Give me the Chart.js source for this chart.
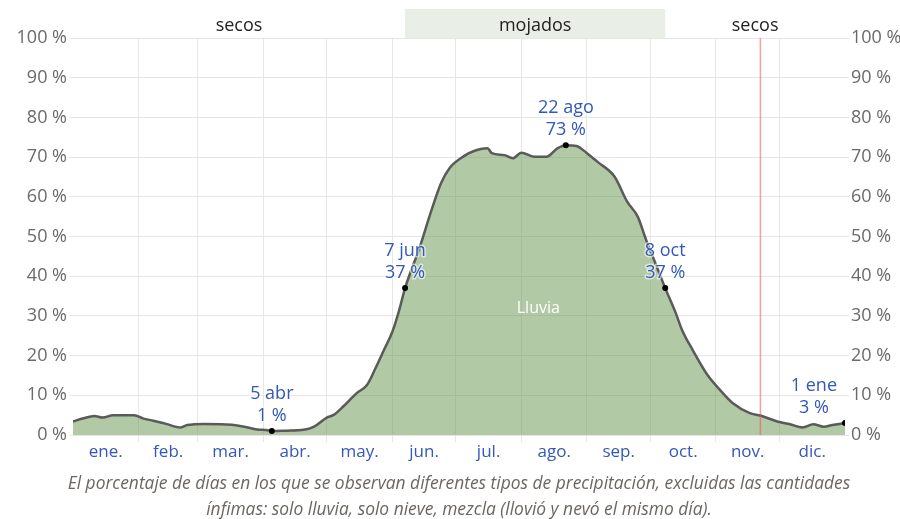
<!DOCTYPE html>
<html>
<head>
<meta charset="utf-8">
<script src="https://cdn.jsdelivr.net/npm/chart.js@4/dist/chart.umd.min.js"></script>
<style>
  html, body { margin: 0; padding: 0; background: #fff; }
  #wrap { width: 900px; height: 519px; }
</style>
</head>
<body>
<div id="wrap"><canvas id="c" width="900" height="519"></canvas></div>
<script>
// Month names and the day of year on which each month starts
const meses = ['ene.', 'feb.', 'mar.', 'abr.', 'may.', 'jun.', 'jul.', 'ago.', 'sep.', 'oct.', 'nov.', 'dic.'];
const inicioMes = [0, 31, 59, 90, 120, 151, 181, 212, 243, 273, 304, 334, 365];

// Daily chance of rain (%) by day of year
const dias = [0, 5, 10, 14, 19, 24, 29, 33, 38, 44, 51, 54, 62, 70, 76, 81, 87, 92, 94, 101,
  109, 114, 120, 123, 128, 134, 139, 143, 147, 151, 154, 157, 164, 169, 174, 178, 185, 189, 196, 198,
  204, 208, 212, 218, 224, 229, 233, 238, 243, 248, 256, 262, 267, 271, 276, 280, 285, 288, 293, 300,
  306, 312, 320, 325, 333, 339, 345, 350, 355, 359, 365];
const lluvia = [3.4, 4.2, 4.8, 4.4, 5.0, 5.0, 5.0, 4.2, 3.6, 2.8, 1.9, 2.5, 2.8, 2.7, 2.5, 2.1, 1.4, 1.2, 1, 1.1,
  1.3, 2.1, 4.4, 5.0, 7.3, 10.5, 12.6, 16.8, 21.4, 26, 31, 37, 47.4, 55.8, 63.4, 67.2, 70.3, 71.4, 72.2, 71,
  70.5, 69.7, 71.1, 70.1, 70.1, 72.2, 73, 72.8, 71, 68.8, 65.1, 58.8, 55, 49.1, 42.4, 37, 30.7, 26.4, 21.4, 15.1,
  11.3, 8.0, 5.5, 4.9, 3.4, 2.7, 1.9, 2.7, 2.1, 2.5, 3];

// Highlighted days and their date labels
const notasDia = [94, 157, 233, 280, 365];
const notasFecha = ['5 abr', '7 jun', '22 ago', '8 oct', '1 ene'];

// Wet season (day range) and season names
const temporadaMojada = [157, 280];
const temporadas = ['secos', 'mojados', 'secos'];

// Current day marker
const hoy = 325;

const pie = [
  'El porcentaje de días en los que se observan diferentes tipos de precipitación, excluidas las cantidades',
  'ínfimas: solo lluvia, solo nieve, mezcla (llovió y nevó el mismo día).'
];

const FONT = '"Open Sans", "Noto Sans", sans-serif';
const AZUL = '#3358b8';
const GRIS = '#6a6a6a';
const REJILLA = '#e6e6e6';

const marcas = notasDia.map(d => ({ x: d, y: lluvia[dias.indexOf(d)] }));

// x ticks: month starts carry the grid lines, mid-months carry the names
const mitades = meses.map((m, i) => (inicioMes[i] + inicioMes[i + 1]) / 2);
const ticksX = inicioMes.slice(1, 12).concat(mitades).sort((a, b) => a - b);

const decor = {
  id: 'decor',
  beforeDatasetsDraw(chart) {
    const { ctx, chartArea: a, scales: { x } } = chart;
    ctx.save();
    const xm0 = x.getPixelForValue(temporadaMojada[0]);
    const xm1 = x.getPixelForValue(temporadaMojada[1]);
    ctx.fillStyle = '#e9eee6';
    ctx.fillRect(xm0, a.top - 29, xm1 - xm0, 29);
    const cortes = [x.min, temporadaMojada[0], temporadaMojada[1], x.max];
    ctx.fillStyle = '#222';
    ctx.font = '18px ' + FONT;
    ctx.textAlign = 'center';
    ctx.textBaseline = 'middle';
    temporadas.forEach((t, i) => {
      const cx = (x.getPixelForValue(cortes[i]) + x.getPixelForValue(cortes[i + 1])) / 2;
      ctx.fillText(t, cx, a.top - 12);
    });
    ctx.restore();
  },
  afterDatasetsDraw(chart) {
    const { ctx, chartArea: a, scales: { x, y } } = chart;
    ctx.save();
    // today line
    const xh = x.getPixelForValue(hoy);
    ctx.strokeStyle = 'rgba(245, 80, 80, 0.55)';
    ctx.lineWidth = 1.5;
    ctx.beginPath();
    ctx.moveTo(xh, a.top);
    ctx.lineTo(xh, a.bottom);
    ctx.stroke();

    // series name inside the area
    ctx.font = '16px ' + FONT;
    ctx.textAlign = 'center';
    ctx.textBaseline = 'middle';
    ctx.fillStyle = '#ffffff';
    ctx.fillText('Lluvia', x.getPixelForValue(220), y.getPixelForValue(32));

    // date / value labels
    ctx.font = '18px ' + FONT;
    ctx.lineJoin = 'round';
    marcas.forEach((m, i) => {
      const px = x.getPixelForValue(m.x);
      const py = y.getPixelForValue(m.y);
      const l1 = notasFecha[i];
      const l2 = Math.round(m.y) + ' %';
      const half = Math.max(ctx.measureText(l1).width, ctx.measureText(l2).width) / 2;
      const cx = Math.min(px, a.right - half - 8);
      [[l1, py - 37], [l2, py - 15]].forEach(([t, ty]) => {
        ctx.strokeStyle = 'rgba(255,255,255,0.6)';
        ctx.lineWidth = 3;
        ctx.strokeText(t, cx, ty);
        ctx.fillStyle = AZUL;
        ctx.fillText(t, cx, ty);
      });
    });
    ctx.restore();
  },
  afterDraw(chart) {
    const { ctx } = chart;
    ctx.save();
    ctx.font = 'italic 17.4px ' + FONT;
    ctx.fillStyle = '#6b6661';
    ctx.textAlign = 'center';
    ctx.textBaseline = 'middle';
    ctx.fillText(pie[0], 459, 484);
    ctx.fillText(pie[1], 459, 510);
    ctx.restore();
  }
};

const ejeY = (pos) => ({
  position: pos,
  min: 0,
  max: 100,
  ticks: {
    stepSize: 10,
    color: GRIS,
    padding: 2,
    font: { family: FONT, size: 18 },
    callback: v => v + ' %'
  },
  grid: { color: REJILLA, tickLength: 4, drawOnChartArea: pos === 'left' },
  border: { display: false },
  afterFit: s => { s.width = pos === 'left' ? 73 : 55; }
});

new Chart(document.getElementById('c'), {
  type: 'line',
  data: {
    datasets: [
      {
        type: 'scatter',
        data: marcas,
        pointRadius: 3,
        pointBackgroundColor: '#000',
        pointBorderWidth: 0,
        showLine: false,
        order: 0
      },
      {
        label: 'Lluvia',
        data: dias.map((d, i) => ({ x: d, y: lluvia[i] })),
        borderColor: '#5a5a5a',
        borderWidth: 2.5,
        backgroundColor: 'rgba(101,147,77,0.5)',
        fill: 'origin',
        pointRadius: 0,
        cubicInterpolationMode: 'monotone',
        order: 1
      }
    ]
  },
  options: {
    responsive: false,
    animation: false,
    layout: { padding: { top: 38, bottom: 54, left: 0, right: 0 } },
    plugins: { legend: { display: false }, tooltip: { enabled: false } },
    scales: {
      x: {
        type: 'linear',
        min: 0,
        max: 365,
        afterBuildTicks: s => { s.ticks = ticksX.map(v => ({ value: v })); },
        ticks: {
          autoSkip: false,
          maxRotation: 0,
          padding: 0,
          color: AZUL,
          font: { family: FONT, size: 17 },
          callback: v => {
            const i = mitades.indexOf(v);
            return i >= 0 ? meses[i] : '';
          }
        },
        grid: {
          tickLength: 7,
          color: c => (c.tick && mitades.indexOf(c.tick.value) < 0) ? REJILLA : 'rgba(0,0,0,0)'
        },
        border: { display: false },
        afterFit: s => { s.height = 30; }
      },
      y: ejeY('left'),
      y2: ejeY('right')
    }
  },
  plugins: [decor]
});
</script>
</body>
</html>
